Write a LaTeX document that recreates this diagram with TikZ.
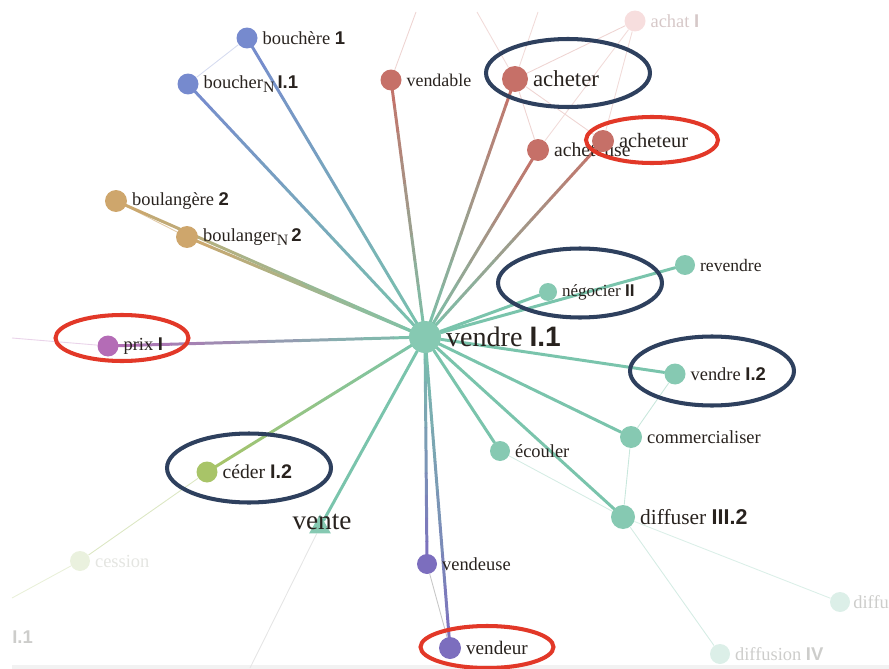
\documentclass[tikz,border=0pt]{standalone}
\usepackage{fontspec}
\setmainfont{Liberation Serif}
\setsansfont{Liberation Sans}
\usetikzlibrary{shapes.geometric, positioning, calc, backgrounds}
\definecolor{tealnode}{RGB}{134, 201, 178}
\definecolor{tealedge}{RGB}{122, 196, 172}
\definecolor{bluenode}{RGB}{118, 138, 206}
\definecolor{rednode}{RGB}{198, 112, 104}
\definecolor{tannode}{RGB}{206, 166, 108}
\definecolor{prixnode}{RGB}{180, 108, 182}
\definecolor{vendnode}{RGB}{124, 110, 190}
\definecolor{cedernode}{RGB}{168, 196, 104}
\definecolor{achatfill}{RGB}{247, 222, 222}
\definecolor{cessionfill}{RGB}{234, 241, 222}
\definecolor{diffufill}{RGB}{220, 239, 232}
\definecolor{inktext}{RGB}{40, 34, 30}
\definecolor{fainttext}{RGB}{205, 205, 203}
\definecolor{achattext}{RGB}{214, 200, 200}
\definecolor{navyring}{RGB}{46, 64, 94}
\definecolor{redring}{RGB}{226, 56, 40}

\newcommand{\sensenum}[1]{\textsf{\bfseries #1}}
\newcommand{\subN}{\raisebox{-0.55ex}{\fontsize{9}{10}\selectfont N}}
% edge shaded from the centre colour to the colour of the far node
\newcommand{\gradline}[3]{%
  \foreach \k in {0,...,9}{%
    \pgfmathsetmacro{\ka}{\k/10}%
    \pgfmathsetmacro{\kb}{(\k+1)/10}%
    \pgfmathtruncatemacro{\kp}{\k*10+5}%
    \draw[relation, draw=#3!\kp!tealedge] ($(#1)!\ka!(#2)$) -- ($(#1)!\kb!(#2)$);
  }%
}

\begin{document}
\begin{tikzpicture}[
        x=0.02cm, y=-0.02cm,
        sense/.style={circle, inner sep=0pt, minimum size=0.42cm, fill=#1},
        lbl/.style={font=\fontsize{10.5}{12}\selectfont, text=inktext, inner sep=2.5pt},
        faintlbl/.style={lbl, text=fainttext},
        relation/.style={line width=1.7pt, line cap=round},
        link/.style={line width=0.5pt},
        ring/.style={ellipse, draw=#1, line width=2.3pt, inner sep=0pt}
    ]
        \useasboundingbox (0,0) rectangle (889,669);

        % Senses
        \node[sense=tealnode, minimum size=0.64cm, label={[lbl, font=\fontsize{16}{19}\selectfont]right:vendre \sensenum{I.1}}] (v11) at (425,337) {};
        \node[sense=bluenode, label={[lbl]right:bouchère \sensenum{1}}] (bouchere) at (247,38) {};
        \node[sense=bluenode, label={[lbl]right:boucher\subN\,\sensenum{I.1}}] (boucher) at (188,84) {};
        \node[sense=rednode, label={[lbl, font=\fontsize{10.2}{12}\selectfont]right:vendable}] (vendable) at (391,80) {};
        \node[sense=rednode, minimum size=0.52cm, label={[lbl, font=\fontsize{13}{15}\selectfont]right:acheter}] (acheter) at (515,79) {};
        \node[sense=achatfill, label={[lbl, text=achattext]right:achat \sensenum{I}}] (achat) at (635,21) {};
        \node[sense=rednode, minimum size=0.44cm, label={[lbl, font=\fontsize{11.2}{13}\selectfont]right:acheteuse}] (acheteuse) at (538,150) {};
        \node[sense=rednode, minimum size=0.44cm, label={[lbl, font=\fontsize{11.6}{13}\selectfont]right:acheteur}] (acheteur) at (603,141) {};
        \node[sense=tannode, minimum size=0.44cm, label={[lbl]right:boulangère \sensenum{2}}] (boulangere) at (116,201) {};
        \node[sense=tannode, minimum size=0.44cm, label={[lbl]right:boulanger\subN\,\sensenum{2}}] (boulanger) at (187,237) {};
        \node[sense=tealnode, minimum size=0.4cm, label={[lbl, font=\fontsize{10}{12}\selectfont]right:revendre}] (revendre) at (685,265) {};
        \node[sense=tealnode, minimum size=0.36cm, label={[lbl, font=\fontsize{9.7}{11}\selectfont]right:négocier \sensenum{II}}] (negocier) at (548,292) {};
        \node[sense=prixnode, label={[lbl]right:prix \sensenum{I}}] (prix) at (108,346) {};
        \node[sense=tealnode, label={[lbl]right:vendre \sensenum{I.2}}] (vendre12) at (675,374) {};
        \node[sense=tealnode, minimum size=0.44cm, label={[lbl]right:commercialiser}] (commerc) at (631,437) {};
        \node[sense=tealnode, minimum size=0.4cm, label={[lbl]right:écouler}] (ecouler) at (500,451) {};
        \node[sense=tealnode, minimum size=0.48cm, label={[lbl, font=\fontsize{12.2}{14}\selectfont]right:diffuser \sensenum{III.2}}] (diffuser) at (623,517) {};
        \node[sense=cedernode, label={[lbl, font=\fontsize{11.2}{13}\selectfont]right:céder \sensenum{I.2}}] (ceder) at (207,472) {};
        \node[regular polygon, regular polygon sides=3, fill=tealnode, inner sep=0pt, minimum size=0.5cm] (vente) at (320,527) {};
        \node[lbl, font=\fontsize{15.5}{18}\selectfont] (ventetext) at ($(vente)+(2,-5)$) {vente};
        \node[sense=cessionfill, minimum size=0.4cm, label={[faintlbl, text=cessionfill!70!black!30]right:cession}] (cession) at (80,561) {};
        \node[sense=vendnode, minimum size=0.4cm, label={[lbl]right:vendeuse}] (vendeuse) at (427,564) {};
        \node[sense=vendnode, minimum size=0.44cm, label={[lbl, font=\fontsize{10.9}{13}\selectfont]right:vendeur}] (vendeur) at (450,648) {};
        \node[sense=diffufill, minimum size=0.4cm, label={[faintlbl, inner sep=1.5pt]right:diffu}] (diffu) at (840,602) {};
        \node[sense=diffufill, minimum size=0.4cm, label={[faintlbl]right:diffusion \sensenum{IV}}] (diffusion) at (720,654) {};
        \node[faintlbl, anchor=west, inner sep=0pt] (lone) at (12,637) {\sensenum{I.1}};

        % Free ends of links leaving the picture
        \coordinate (topA) at (416,12);
        \coordinate (topB) at (477,12);
        \coordinate (topC) at (538,12);
        \coordinate (leftP) at (12,338);
        \coordinate (cessEnd) at (12,598);
        \coordinate (venteEnd) at (250,668);

        % Rings
        \node[ring=navyring, minimum width=3.28cm, minimum height=1.36cm] (ringacheter) at (568,73) {};
        \node[ring=navyring, minimum width=3.28cm, minimum height=1.38cm] (ringnegocier) at (580,283) {};
        \node[ring=navyring, minimum width=3.28cm, minimum height=1.38cm] (ringvendre) at (712,371) {};
        \node[ring=navyring, minimum width=3.28cm, minimum height=1.38cm] (ringceder) at (249,468) {};
        \node[ring=redring, minimum width=2.64cm, minimum height=0.92cm] (ringacheteur) at (652,140) {};
        \node[ring=redring, minimum width=2.66cm, minimum height=0.92cm] (ringprix) at (122,338) {};
        \node[ring=redring, minimum width=2.66cm, minimum height=0.84cm] (ringvendeur) at (487,647) {};

        \begin{scope}[on background layer]
            \fill[black!5] (12,665) rectangle (889,669);

            % Weak links
            \draw[link, bluenode!30] (bouchere) -- (boucher);
            \draw[link, tannode!60] (boulangere) -- (boulanger);
            \draw[link, rednode!30] (vendable) -- (topA);
            \draw[link, rednode!25] (acheter) -- (topB);
            \draw[link, rednode!25] (acheter) -- (topC);
            \draw[link, rednode!30] (acheter) -- (achat);
            \draw[link, rednode!30] (acheter) -- (acheteur);
            \draw[link, rednode!30] (acheter) -- (acheteuse);
            \draw[link, rednode!25] (acheteuse) -- (achat);
            \draw[link, rednode!25] (acheteur) -- (achat);
            \draw[link, prixnode!30] (prix) -- (leftP);
            \draw[link, cedernode!40] (ceder) -- (cession);
            \draw[link, cedernode!25] (cession) -- (cessEnd);
            \draw[link, black!10] (vente) -- (venteEnd);
            \draw[link, black!22] (vendeuse) -- (vendeur);
            \draw[link, tealnode!45] (vendre12) -- (commerc);
            \draw[link, tealnode!45] (commerc) -- (diffuser);
            \draw[link, tealnode!35] (ecouler) -- (diffuser);
            \draw[link, tealnode!30] (diffuser) -- (diffu);
            \draw[link, tealnode!35] (diffuser) -- (diffusion);

            % Links from vendre I.1
            \gradline{v11}{bouchere}{bluenode}
            \gradline{v11}{boucher}{bluenode}
            \gradline{v11}{vendable}{rednode}
            \gradline{v11}{acheter}{rednode}
            \gradline{v11}{acheteuse}{rednode}
            \gradline{v11}{acheteur}{rednode}
            \gradline{v11}{boulangere}{tannode}
            \gradline{v11}{boulanger}{tannode}
            \gradline{v11}{prix}{prixnode}
            \gradline{v11}{ceder}{cedernode}
            \gradline{v11}{vendeuse}{vendnode}
            \gradline{v11}{vendeur}{vendnode}
            \draw[relation, tealedge] (v11) -- (revendre);
            \draw[relation, tealedge] (v11) -- (negocier);
            \draw[relation, tealedge] (v11) -- (vendre12);
            \draw[relation, tealedge] (v11) -- (commerc);
            \draw[relation, tealedge] (v11) -- (ecouler);
            \draw[relation, tealedge] (v11) -- (diffuser);
            \draw[relation, tealedge] (v11) -- (vente);
        \end{scope}
    \end{tikzpicture}
\end{document}
